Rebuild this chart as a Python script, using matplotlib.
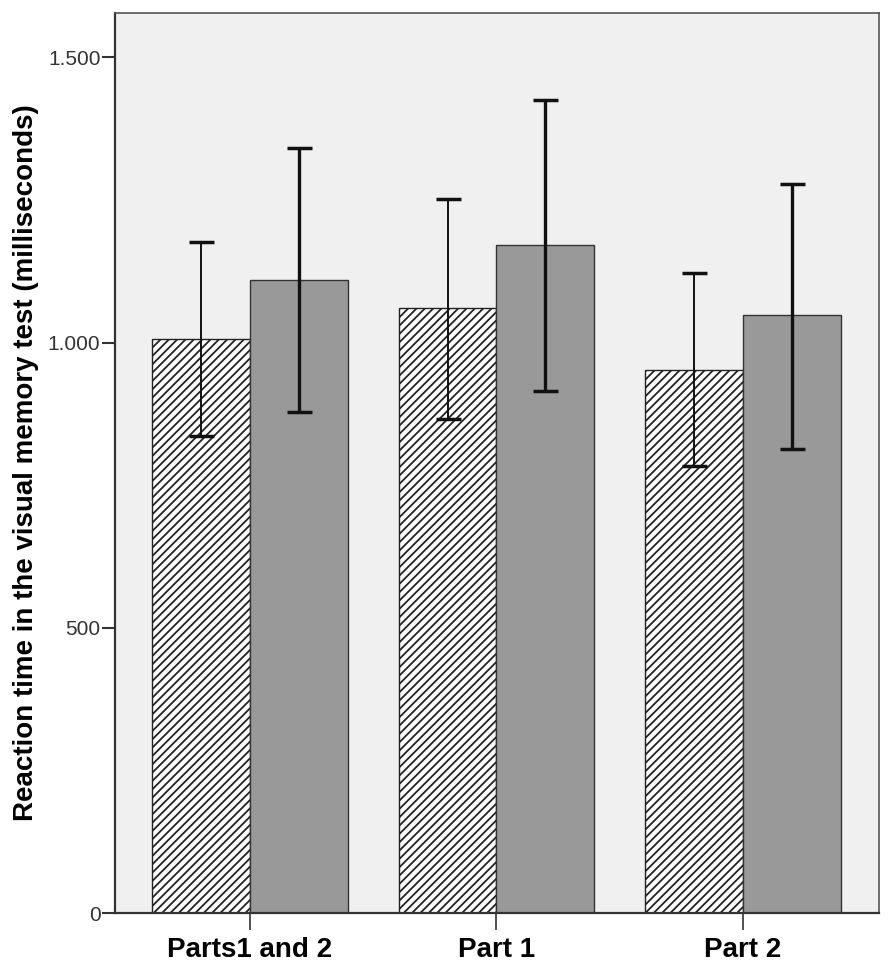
import numpy as np
import matplotlib
matplotlib.use("Agg")
import matplotlib.pyplot as plt
from matplotlib.ticker import FuncFormatter

plt.rcParams['font.family'] = ['Liberation Sans', 'DejaVu Sans']
plt.rcParams['hatch.linewidth'] = 1.3

categories = ['Parts1 and 2', 'Part 1', 'Part 2']

# hatched series (left bar in each group)
hatched_mean = [1006, 1060, 952]
hatched_low = [837, 866, 783]
hatched_high = [1176, 1252, 1123]

# grey series (right bar in each group)
grey_mean = [1110, 1172, 1048]
grey_low = [878, 915, 814]
grey_high = [1342, 1426, 1279]

yticks = [0, 500, 1000, 1500]

fig = plt.figure(figsize=(8.92, 9.71), dpi=100)
ax = fig.add_axes([0.1289, 0.0597, 0.8565, 0.9269])
ax.set_facecolor('#f0f0f0')

x = np.arange(len(categories))
w = 0.396

hm = np.array(hatched_mean)
gm = np.array(grey_mean)
h_err = [hm - np.array(hatched_low), np.array(hatched_high) - hm]
g_err = [gm - np.array(grey_low), np.array(grey_high) - gm]

ax.bar(x - w / 2, hm, w, color='white', edgecolor='#222222', hatch='////',
       linewidth=1.0, zorder=2)
ax.bar(x + w / 2, gm, w, color='#999999', edgecolor='#333333',
       linewidth=1.0, zorder=2)

ax.errorbar(x - w / 2, hm, yerr=h_err, fmt='none', ecolor='#111111',
            elinewidth=1.4, capsize=9, capthick=2.5, zorder=3)
ax.errorbar(x + w / 2, gm, yerr=g_err, fmt='none', ecolor='#111111',
            elinewidth=2.4, capsize=9, capthick=2.5, zorder=3)

ax.set_xlim(-0.548, 2.552)
ax.set_ylim(0, 1578)

ax.set_xticks(x)
ax.set_xticklabels(categories, fontsize=20, fontweight='bold')
ax.set_yticks(yticks)
ax.yaxis.set_major_formatter(FuncFormatter(lambda v, p: f'{int(v):,}'.replace(',', '.')))
ax.tick_params(axis='y', labelsize=15, labelcolor='#333333', length=9.5,
               width=1.5, color='#333333', pad=1)
ax.tick_params(axis='x', length=12, width=1.2, color='#333333', pad=5)

ax.set_ylabel('Reaction time in the visual memory test (milliseconds)',
              fontsize=20, fontweight='bold')
ax.yaxis.set_label_coords(-0.10, 0.5)

for s in ['left', 'bottom']:
    ax.spines[s].set_color('#333333')
    ax.spines[s].set_linewidth(1.6)
for s in ['top', 'right']:
    ax.spines[s].set_color('#555555')
    ax.spines[s].set_linewidth(1.2)

fig.savefig('out.png', dpi=100)
